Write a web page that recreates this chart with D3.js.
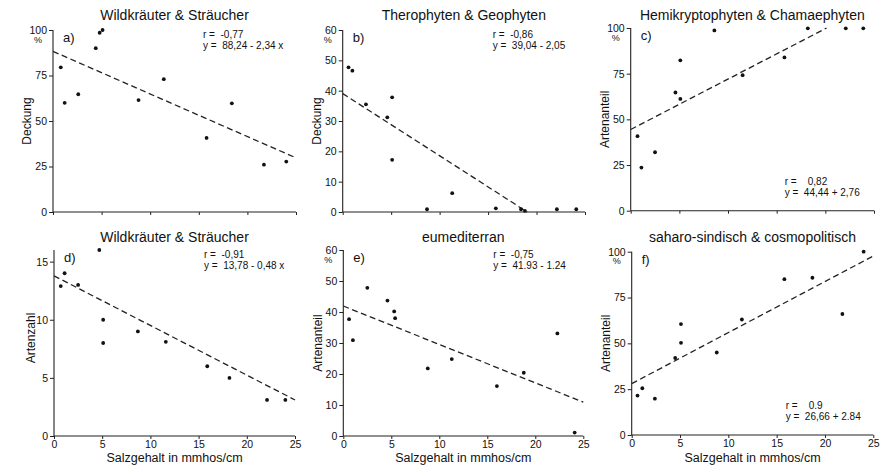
<!DOCTYPE html>
<html><head><meta charset="utf-8">
<script src="https://cdn.jsdelivr.net/npm/d3@7"></script>
<style>
body{margin:0;background:#fff;}
svg{font-family:"Liberation Sans",Arial,sans-serif;}
text{white-space:pre;}
</style></head>
<body><svg id="c" width="888" height="470"></svg>
<script>
// ---- data ----
const panelIds = ["a","b","c","d","e","f"];
const titles = ["Wildkräuter & Sträucher","Therophyten & Geophyten","Hemikryptophyten & Chamaephyten",
                "Wildkräuter & Sträucher","eumediterran","saharo-sindisch & cosmopolitisch"];
const yLabels = ["Deckung","Deckung","Artenanteil","Artenzahl","Artenanteil","Artenanteil"];
const yMax = [100,60,100,16,60,100];
const yTicks = [[0,25,50,75,100],[0,10,20,30,40,50,60],[0,25,50,75,100],[0,5,10,15],[0,10,20,30,40,50,60],[0,25,50,75,100]];
const pctUnit = [true,true,true,false,true,true];
const xTicks = [0,5,10,15,20,25];
const xLabel = "Salzgehalt in mmhos/cm";
const rTexts = ["r =  -0,77","r =  -0,86","r =    0,82","r =  -0,91","r =  -0,75","r =    0.9"];
const eqTexts = ["y =  88,24 - 2,34 x","y =  39,04 - 2,05","y =  44,44 + 2,76","y =  13,78 - 0,48 x","y =  41.93 - 1.24","y =  26,66 + 2.84"];
// scatter points [salt, value]
const ptsA = [[0.8,79.5],[1.2,60],[2.6,64.7],[4.4,90],[4.8,98.5],[5.1,100],[8.8,61.5],[11.4,73],[15.8,40.7],[18.4,59.7],[21.7,26],[24.0,27.7]];
const ptsB = [[0.6,47.7],[1.0,46.6],[2.4,35.5],[4.6,31.2],[5.1,37.8],[5.1,17.2],[8.7,0.9],[11.3,6.2],[15.8,1.2],[18.4,0.9],[18.8,0.4],[22.1,0.9],[24.1,0.9]];
const ptsC = [[0.7,40.8],[1.1,23.6],[2.5,32],[4.6,64.7],[5.1,82.3],[5.1,61.2],[8.6,98.7],[11.5,74.2],[15.8,83.9],[18.2,99.8],[22.1,99.8],[23.9,99.8]];
const ptsD = [[0.7,12.9],[1.1,14],[2.5,13],[4.7,16],[5.1,10],[5.1,8],[8.7,9],[11.6,8.1],[15.9,6],[18.2,5],[22.1,3.1],[24.0,3.1]];
const ptsE = [[0.6,37.7],[1.0,30.9],[2.5,47.8],[4.6,43.7],[5.3,40.2],[5.4,38],[8.8,21.8],[11.3,24.8],[16.0,16.1],[18.8,20.4],[22.3,33.1],[24.1,1.1]];
const ptsF = [[0.6,21.5],[1.1,25.5],[2.4,19.8],[4.5,42],[5.1,60.5],[5.1,50.3],[8.8,45],[11.4,63],[15.8,85],[18.7,85.8],[21.8,66],[24.0,100]];
const points = [ptsA,ptsB,ptsC,ptsD,ptsE,ptsF];
// regression lines [x0,y0,x1,y1] in data units
const trends = [[0,88.24,25,29.74],[0,39.04,19.04,0],[0,44.44,20.13,100],[0,13.78,25,3.1],[0,41.93,25,10.93],[0,28.0,25,97.66]];

// ---- layout ----
const layout = [
  {x0:53, x1:296, y0:212, y1:30},
  {x0:342.7, x1:585, y0:212, y1:30},
  {x0:630.7, x1:874, y0:210.7, y1:28},
  {x0:54, x1:295, y0:436, y1:250},
  {x0:343.3, x1:583.3, y0:436, y1:250},
  {x0:631.7, x1:873.3, y0:435, y1:251.7}
];
const svg = d3.select("#c");
panelIds.forEach((id,i)=>{
  const L = layout[i];
  const bottom = i>=3;
  const x = d3.scaleLinear().domain([0,25]).range([L.x0,L.x1]);
  const y = d3.scaleLinear().domain([0,yMax[i]]).range([L.y0,L.y1]);
  const g = svg.append("g");
  // y axis
  const ya = g.append("g").attr("transform",`translate(${L.x0},0)`)
    .call(d3.axisLeft(y).tickValues(yTicks[i]).tickSize(4).tickPadding(2).tickFormat(d3.format("d")));
  ya.select(".domain").attr("d",`M0,${L.y0}V${L.y1}`);
  // x axis
  const xa = g.append("g").attr("transform",`translate(0,${L.y0})`)
    .call(d3.axisBottom(x).tickValues(xTicks).tickSize(3).tickPadding(1.5).tickFormat(bottom? d3.format("d") : ""));
  xa.select(".domain").attr("d",`M${L.x0},0H${L.x1}`);
  g.selectAll(".domain").attr("stroke","#222").attr("stroke-width",1.1);
  g.selectAll(".tick line").attr("stroke","#222");
  g.selectAll(".tick text").attr("font-size",10.5).attr("fill","#111").attr("font-family","Liberation Sans, Arial, sans-serif");
  if(pctUnit[i]){
    g.append("text").attr("x",L.x0-15).attr("y",y(yMax[i])+12.5).attr("text-anchor","middle")
      .attr("font-size",9).attr("fill","#111").text("%");
  }
  // title
  g.append("text").attr("x",(L.x0+L.x1)/2).attr("y",bottom?242:20).attr("text-anchor","middle")
    .attr("font-size",14).attr("fill","#111").text(titles[i]);
  // y label
  const lx = L.x0 - (i===3?23:26), ly = (L.y0+L.y1)/2 + (i===3?-5:0);
  g.append("text").attr("transform",`translate(${lx},${ly}) rotate(-90)`).attr("text-anchor","middle")
    .attr("dy","0.35em").attr("font-size",12).attr("fill","#111").text(yLabels[i]);
  // x label
  if(bottom){
    g.append("text").attr("x",(L.x0+L.x1)/2).attr("y",462).attr("text-anchor","middle")
      .attr("font-size",12.5).attr("fill","#111").text(xLabel);
  }
  // panel letter
  g.append("text").attr("x",L.x0+10).attr("y",L.y1+12).attr("font-size",13).attr("fill","#111").text(id+")");
  // stats
  const sx = (i===2||i===5) ? L.x0+154 : L.x0+150;
  const sy = (i===2||i===5) ? L.y0-26 : L.y1+8;
  g.append("text").attr("x",sx).attr("y",sy).attr("font-size",10).attr("fill","#111").text(rTexts[i]);
  g.append("text").attr("x",sx).attr("y",sy+11).attr("font-size",10).attr("fill","#111").text(eqTexts[i]);
  // trend line
  const t = trends[i];
  g.append("line").attr("x1",x(t[0])).attr("y1",y(t[1])).attr("x2",x(t[2])).attr("y2",y(t[3]))
    .attr("stroke","#222").attr("stroke-width",1.3).attr("stroke-dasharray","6,3.5");
  // points
  g.selectAll("circle").data(points[i]).join("circle")
    .attr("cx",d=>x(d[0])).attr("cy",d=>y(d[1])).attr("r",1.9).attr("fill","#111");
});
</script></body></html>
